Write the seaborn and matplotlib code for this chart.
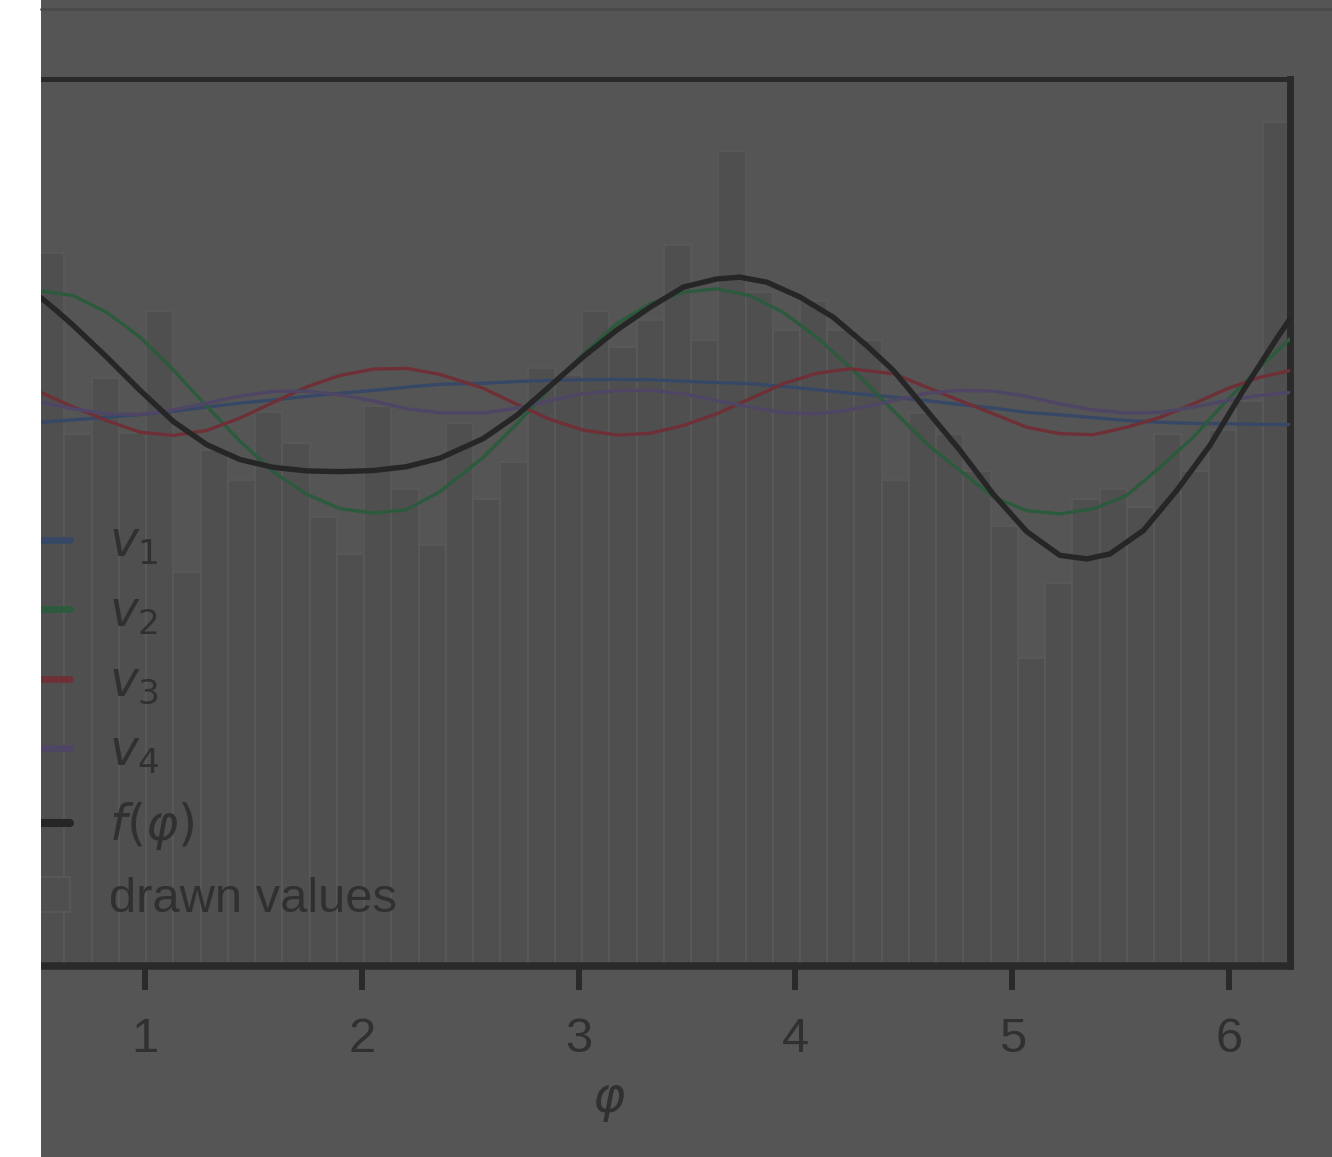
import numpy as np
import matplotlib
matplotlib.use("Agg")
import matplotlib.pyplot as plt
import seaborn as sns
from matplotlib.patches import Rectangle
from matplotlib.lines import Line2D

phi = [0.516, 0.669, 0.823, 0.977, 1.131, 1.285, 1.438, 1.592, 1.746, 1.899,
       2.053, 2.207, 2.361, 2.560, 2.714, 2.868, 3.022, 3.176, 3.329, 3.483,
       3.637, 3.791, 3.944, 4.098, 4.252, 4.452, 4.606, 4.759, 4.913, 5.067,
       5.220, 5.374, 5.528, 5.682, 5.835, 5.989, 6.143, 6.283]

v1 = [0.1531, 0.1538, 0.1545, 0.1553, 0.1562, 0.1574, 0.1585, 0.1594, 0.1604, 0.1613,
      0.1621, 0.1630, 0.1638, 0.1641, 0.1646, 0.1649, 0.1651, 0.1652, 0.1651, 0.1647,
      0.1643, 0.1640, 0.1632, 0.1623, 0.1613, 0.1602, 0.1592, 0.1581, 0.1571, 0.1559,
      0.1552, 0.1544, 0.1536, 0.1531, 0.1528, 0.1527, 0.1525, 0.1525]

v2 = [0.1902, 0.1888, 0.1841, 0.1771, 0.1678, 0.1576, 0.1478, 0.1391, 0.1328, 0.1288,
      0.1275, 0.1285, 0.1336, 0.1432, 0.1526, 0.1628, 0.1724, 0.1809, 0.1865, 0.1898,
      0.1907, 0.1888, 0.1841, 0.1771, 0.1686, 0.1564, 0.1470, 0.1395, 0.1320, 0.1282,
      0.1273, 0.1287, 0.1325, 0.1404, 0.1489, 0.1592, 0.1686, 0.1767]

v3 = [0.1616, 0.1574, 0.1536, 0.1503, 0.1494, 0.1508, 0.1543, 0.1587, 0.1631, 0.1663,
      0.1681, 0.1683, 0.1666, 0.1627, 0.1582, 0.1539, 0.1509, 0.1495, 0.1500, 0.1522,
      0.1555, 0.1597, 0.1640, 0.1669, 0.1682, 0.1668, 0.1630, 0.1592, 0.1555, 0.1517,
      0.1499, 0.1496, 0.1517, 0.1545, 0.1583, 0.1625, 0.1658, 0.1677]

v4 = [0.1588, 0.1569, 0.1555, 0.1553, 0.1566, 0.1585, 0.1605, 0.1618, 0.1619, 0.1609,
      0.1591, 0.1569, 0.1558, 0.1557, 0.1571, 0.1592, 0.1612, 0.1620, 0.1621, 0.1611,
      0.1592, 0.1574, 0.1558, 0.1555, 0.1566, 0.1592, 0.1613, 0.1621, 0.1619, 0.1604,
      0.1583, 0.1566, 0.1557, 0.1559, 0.1574, 0.1592, 0.1607, 0.1615]

# the total curve was read more densely around its extremes
phi_f = [0.516, 0.593, 0.669, 0.823, 0.977, 1.131, 1.285, 1.438, 1.592, 1.746,
         1.899, 2.053, 2.207, 2.361, 2.560, 2.714, 2.868, 3.022, 3.176, 3.329,
         3.483, 3.637, 3.744, 3.868, 4.021, 4.175, 4.329, 4.452, 4.606, 4.759,
         4.913, 5.067, 5.220, 5.344, 5.451, 5.605, 5.759, 5.912, 6.066, 6.220, 6.283]

f_phi = [0.1884, 0.1845, 0.1804, 0.1715, 0.1621, 0.1533, 0.1468, 0.1426, 0.1404, 0.1394,
         0.1392, 0.1395, 0.1406, 0.1430, 0.1485, 0.1550, 0.1633, 0.1716, 0.1791, 0.1855,
         0.1912, 0.1935, 0.1940, 0.1926, 0.1884, 0.1827, 0.1747, 0.1677, 0.1564, 0.1452,
         0.1328, 0.1223, 0.1156, 0.1146, 0.1160, 0.1226, 0.1339, 0.1466, 0.1621, 0.1767, 0.1824]

# histogram of drawn values: 50 bins on [0, 2pi], visible bins 4..49
n_bins = 50
first_bin = 4
drawn = [0.2007, 0.1499, 0.1657, 0.1502, 0.1846, 0.1108, 0.1452, 0.1367, 0.1559, 0.1474,
         0.1263, 0.1161, 0.1578, 0.1344, 0.1184, 0.1528, 0.1316, 0.1418, 0.1683, 0.1663,
         0.1846, 0.1742, 0.1818, 0.2032, 0.1762, 0.2297, 0.1897, 0.1790, 0.1874, 0.1790,
         0.1762, 0.1367, 0.1556, 0.1499, 0.1395, 0.1240, 0.0868, 0.1077, 0.1316, 0.1342,
         0.1291, 0.1499, 0.1395, 0.1508, 0.1592, 0.2376]

labels = ["$v_1$", "$v_2$", "$v_3$", "$v_4$"]
colors = ["#364866", "#2c5a3d", "#6e3036", "#4f4565"]

sns.set_style("ticks")
plt.rcParams["font.family"] = ["Liberation Sans", "DejaVu Sans"]
plt.rcParams["mathtext.fontset"] = "dejavusans"

BG = "#555555"
DARK = "#2a2a2a"
TXT = "#303030"
FS = 35.2

W, H = 1332, 1157
fig = plt.figure(figsize=(W / 100, H / 100), dpi=100, facecolor=BG)
ax = fig.add_axes([-71.8 / W, (H - 965.5) / H, 1362.2 / W, 887 / H])
ax.set_facecolor(BG)

edges = np.linspace(0, 2 * np.pi, n_bins + 1)
bw = edges[1] - edges[0]
ax.bar(edges[first_bin:first_bin + len(drawn)], drawn, width=bw, align="edge",
       color="#4f4f4f", edgecolor="#5a5a5a", linewidth=1.1,
       label="drawn values", zorder=1)

for vals, lab, col in zip([v1, v2, v3, v4], labels, colors):
    sns.lineplot(x=phi, y=vals, ax=ax, color=col, linewidth=2.4, label=lab, zorder=3)
sns.lineplot(x=phi_f, y=f_phi, ax=ax, color="#262626", linewidth=3.9,
             label=r"$f(\varphi)$", zorder=4)

ax.set_xlim(0, 2 * np.pi)
ax.set_ylim(0, 0.25)
ax.set_xticks([1, 2, 3, 4, 5, 6])
ax.set_yticks([])
ax.spines["left"].set_visible(False)
for side, lw in [("top", 3.6), ("right", 5.0), ("bottom", 5.4)]:
    ax.spines[side].set_color(DARK)
    ax.spines[side].set_linewidth(lw)
ax.tick_params(axis="x", direction="out", length=17.6, width=4.3, color=DARK,
               labelsize=FS, labelcolor=TXT, pad=19.5)
ax.set_xlabel(r"$\varphi$", fontsize=FS, color=TXT, labelpad=12)

leg = ax.legend(loc="lower left", frameon=False, fontsize=FS, labelcolor=TXT)
for h in leg.legend_handles:
    if isinstance(h, Line2D):
        h.set_linewidth(5.8 if h.get_color() == "#262626" else 4.8)

# cropped screenshot: white strip on the left, thin rule at the top
fig.add_artist(Rectangle((0, 0), 41 / W, 1, transform=fig.transFigure,
                         facecolor="white", edgecolor="none", zorder=20))
fig.add_artist(Line2D([41 / W, 1], [1 - 8.7 / H] * 2, transform=fig.transFigure,
                      color="#4a4a4a", linewidth=2, zorder=20))

fig.savefig("out.png", dpi=100, facecolor=BG)
